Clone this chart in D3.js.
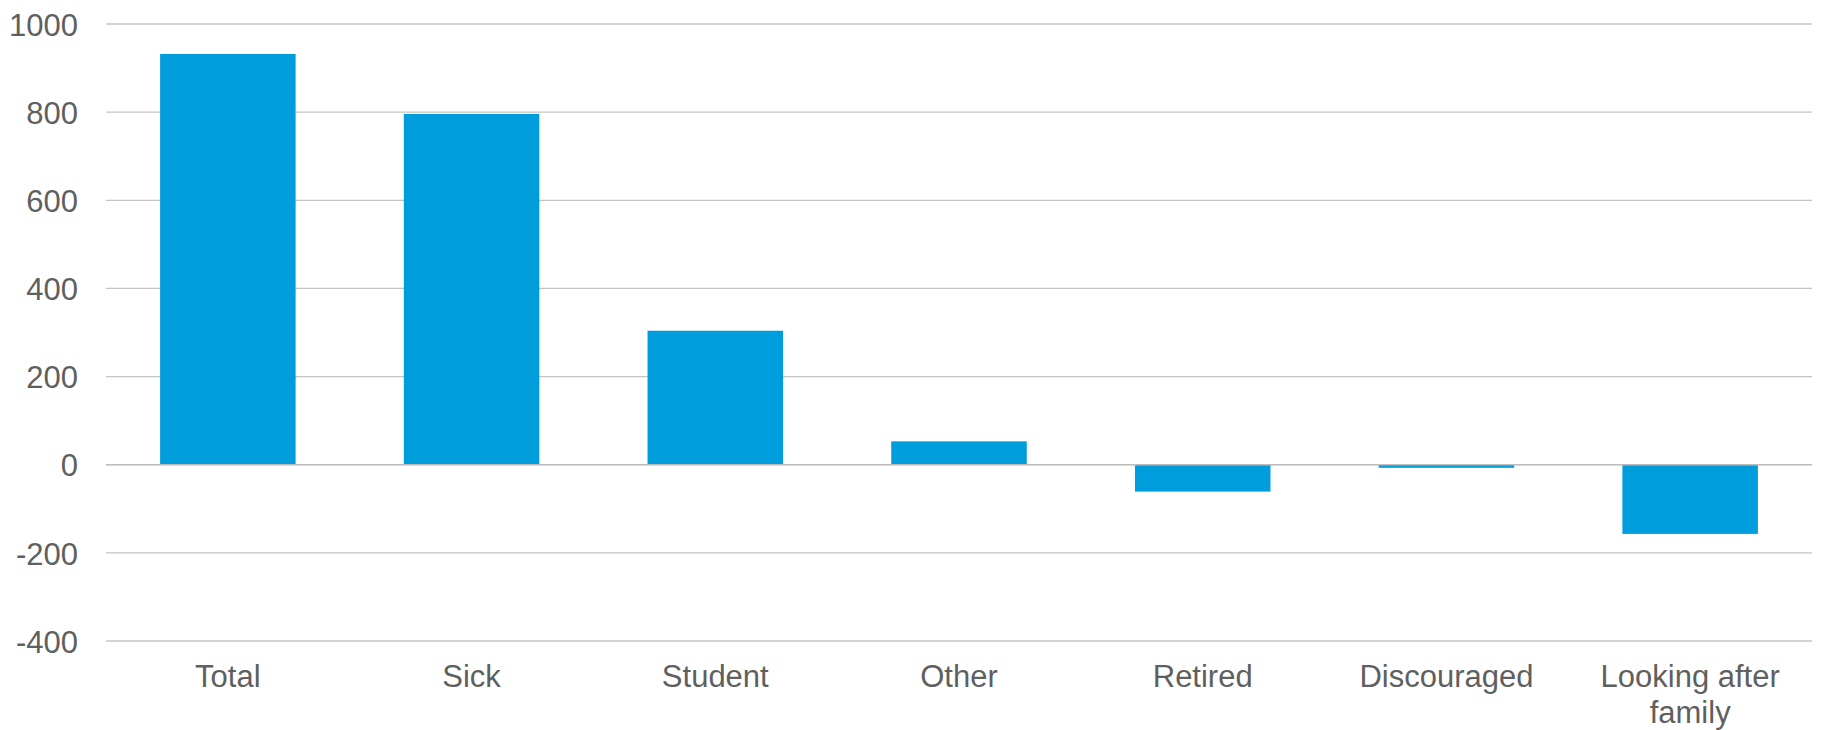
<!DOCTYPE html>
<html>
<head>
<meta charset="utf-8">
<script src="https://cdn.jsdelivr.net/npm/d3@7"></script>
<style>
  body { margin: 0; background: #fff; }
  .axis text { font-family: "Liberation Sans", Arial, sans-serif; fill: #5f5f5f; }
  .grid line { stroke: #c4c4c4; stroke-width: 1.3px; }
</style>
</head>
<body>
<div id="chart"></div>
<script>
// data
const categories = ['Total', 'Sick', 'Student', 'Other', 'Retired', 'Discouraged', 'Looking after family'];
const values = [932, 796, 304, 53, -61, -7, -157];
const yTicks = [-400, -200, 0, 200, 400, 600, 800, 1000];

const config = {
  width: 1822,
  height: 730,
  margin: { top: 24, right: 10, bottom: 89, left: 106 }
};

const innerW = config.width - config.margin.left - config.margin.right;
const innerH = config.height - config.margin.top - config.margin.bottom;

const svg = d3.select('#chart').append('svg')
  .attr('width', config.width)
  .attr('height', config.height);

const chart = svg.append('g')
  .attr('transform', `translate(${config.margin.left},${config.margin.top})`);

// scales
const xScale = d3.scaleBand()
  .domain(categories)
  .range([0, innerW])
  .paddingInner(0.444)
  .paddingOuter(0.222);

const yScale = d3.scaleLinear()
  .domain([-400, 1000])
  .range([innerH, 0]);

// gridlines
chart.append('g')
  .attr('class', 'grid')
  .selectAll('line')
  .data(yTicks)
  .join('line')
    .attr('x1', 0)
    .attr('x2', innerW)
    .attr('y1', d => yScale(d))
    .attr('y2', d => yScale(d));

// bars
chart.selectAll('.bar')
  .data(categories.map((c, i) => ({ cat: c, val: values[i] })))
  .join('rect')
    .attr('class', 'bar')
    .attr('x', d => xScale(d.cat))
    .attr('width', xScale.bandwidth())
    .attr('y', d => yScale(Math.max(0, d.val)))
    .attr('height', d => Math.abs(yScale(d.val) - yScale(0)))
    .attr('fill', '#009ddd');

// zero line on top of bars
chart.append('line')
  .attr('x1', 0)
  .attr('x2', innerW)
  .attr('y1', yScale(0))
  .attr('y2', yScale(0))
  .attr('stroke', '#bdbdbd')
  .attr('stroke-width', 1.5);

// y axis (labels only), plain hyphen for negatives like the original
const yAxisG = chart.append('g')
  .attr('class', 'axis y-axis')
  .call(d3.axisLeft(yScale).tickValues(yTicks).tickSize(0).tickPadding(28).tickFormat(d => String(d)));
yAxisG.select('.domain').remove();
yAxisG.selectAll('text')
  .attr('font-size', 31)
  .attr('dy', '0.36em');

// x axis (labels only) at bottom
const xAxisG = chart.append('g')
  .attr('class', 'axis x-axis')
  .attr('transform', `translate(0,${innerH})`)
  .call(d3.axisBottom(xScale).tickSize(0).tickPadding(0));
xAxisG.select('.domain').remove();
xAxisG.selectAll('text')
  .attr('font-size', 31)
  .attr('y', 46)
  .attr('dy', 0)
  .call(wrap, xScale.bandwidth() * 1.6);

function wrap(texts, width) {
  texts.each(function() {
    const text = d3.select(this);
    const words = text.text().split(/\s+/);
    const y = text.attr('y');
    text.text(null);
    let line = [];
    let lineNo = 0;
    let tspan = text.append('tspan').attr('x', 0).attr('y', y).attr('dy', 0);
    words.forEach(w => {
      line.push(w);
      tspan.text(line.join(' '));
      if (tspan.node().getComputedTextLength() > width && line.length > 1) {
        line.pop();
        tspan.text(line.join(' '));
        line = [w];
        lineNo++;
        tspan = text.append('tspan').attr('x', 0).attr('y', y).attr('dy', lineNo * 36).text(w);
      }
    });
  });
}
</script>
</body>
</html>
